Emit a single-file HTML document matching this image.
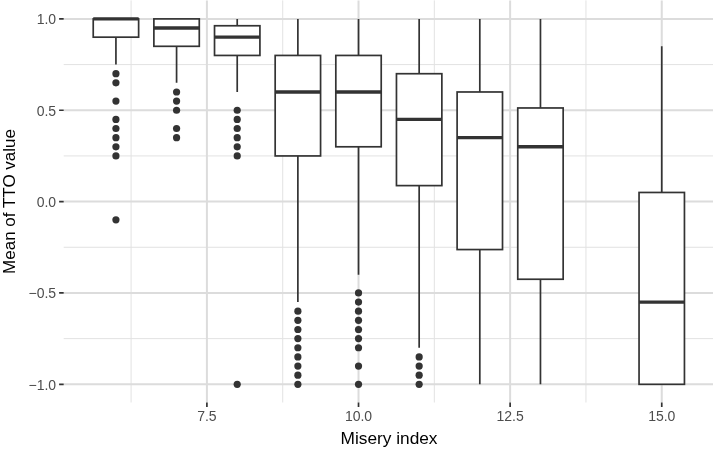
<!DOCTYPE html><html><head><meta charset="utf-8"><style>html,body{margin:0;padding:0;background:#fff;}svg{display:block;will-change:transform;}text{font-family:"Liberation Sans",sans-serif;}</style></head><body>
<svg width="713" height="449" viewBox="0 0 713 449">
<rect width="713" height="449" fill="#fff"/>
<path d="M131.09 0.4V402.5M282.71 0.4V402.5M434.33 0.4V402.5M585.94 0.4V402.5M63.7 338.62H714M63.7 247.28H714M63.7 155.93H714M63.7 64.58H714" stroke="#E2E2E2" stroke-width="1.0" fill="none"/>
<path d="M206.9 0.4V402.5M358.52 0.4V402.5M510.13 0.4V402.5M661.75 0.4V402.5M63.7 384.3H714M63.7 292.95H714M63.7 201.6H714M63.7 110.25H714M63.7 18.9H714" stroke="#DCDCDC" stroke-width="2.0" fill="none"/>
<path d="M115.93 37.17V64.58M176.58 46.31V82.84M237.22 18.9V25.75M237.22 55.44V91.98M297.87 18.9V55.44M297.87 155.93V302.09M358.52 18.9V55.44M358.52 146.79V274.68M419.16 18.9V73.71M419.16 185.61V347.76M479.81 18.9V91.98M479.81 249.56V384.3M540.46 18.9V107.97M540.46 279.25V384.3M661.75 46.31V192.47" stroke="#333333" stroke-width="1.7" fill="none"/>
<g fill="#fff" stroke="#333333" stroke-width="1.7"><rect x="93.23" y="18.9" width="45.4" height="18.27"/><rect x="153.88" y="18.9" width="45.4" height="27.41"/><rect x="214.52" y="25.75" width="45.4" height="29.69"/><rect x="275.17" y="55.44" width="45.4" height="100.49"/><rect x="335.82" y="55.44" width="45.4" height="91.35"/><rect x="396.46" y="73.71" width="45.4" height="111.9"/><rect x="457.11" y="91.98" width="45.4" height="157.58"/><rect x="517.76" y="107.97" width="45.4" height="171.28"/><rect x="639.05" y="192.47" width="45.4" height="191.84"/></g>
<path d="M93.23 18.9H138.63M153.88 28.04H199.28M214.52 37.17H259.92M275.17 91.98H320.57M335.82 91.98H381.22M396.46 119.39H441.86M457.11 137.66H502.51M517.76 146.79H563.16M639.05 302.09H684.45" stroke="#333333" stroke-width="3.4" fill="none"/>
<g fill="#333333"><circle cx="115.93" cy="73.71" r="3.6"/><circle cx="115.93" cy="82.84" r="3.6"/><circle cx="115.93" cy="101.12" r="3.6"/><circle cx="115.93" cy="119.39" r="3.6"/><circle cx="115.93" cy="128.52" r="3.6"/><circle cx="115.93" cy="137.66" r="3.6"/><circle cx="115.93" cy="146.79" r="3.6"/><circle cx="115.93" cy="155.93" r="3.6"/><circle cx="115.93" cy="219.87" r="3.6"/><circle cx="176.58" cy="91.98" r="3.6"/><circle cx="176.58" cy="101.12" r="3.6"/><circle cx="176.58" cy="110.25" r="3.6"/><circle cx="176.58" cy="128.52" r="3.6"/><circle cx="176.58" cy="137.66" r="3.6"/><circle cx="237.22" cy="110.25" r="3.6"/><circle cx="237.22" cy="119.39" r="3.6"/><circle cx="237.22" cy="128.52" r="3.6"/><circle cx="237.22" cy="137.66" r="3.6"/><circle cx="237.22" cy="146.79" r="3.6"/><circle cx="237.22" cy="155.93" r="3.6"/><circle cx="237.22" cy="384.3" r="3.6"/><circle cx="297.87" cy="311.22" r="3.6"/><circle cx="297.87" cy="320.35" r="3.6"/><circle cx="297.87" cy="329.49" r="3.6"/><circle cx="297.87" cy="338.62" r="3.6"/><circle cx="297.87" cy="347.76" r="3.6"/><circle cx="297.87" cy="356.9" r="3.6"/><circle cx="297.87" cy="366.03" r="3.6"/><circle cx="297.87" cy="375.17" r="3.6"/><circle cx="297.87" cy="384.3" r="3.6"/><circle cx="358.52" cy="292.95" r="3.6"/><circle cx="358.52" cy="302.09" r="3.6"/><circle cx="358.52" cy="311.22" r="3.6"/><circle cx="358.52" cy="320.35" r="3.6"/><circle cx="358.52" cy="329.49" r="3.6"/><circle cx="358.52" cy="338.62" r="3.6"/><circle cx="358.52" cy="347.76" r="3.6"/><circle cx="358.52" cy="366.03" r="3.6"/><circle cx="358.52" cy="384.3" r="3.6"/><circle cx="419.16" cy="356.9" r="3.6"/><circle cx="419.16" cy="366.03" r="3.6"/><circle cx="419.16" cy="375.17" r="3.6"/><circle cx="419.16" cy="384.3" r="3.6"/></g>
<path d="M59.1 384.3H63.7M59.1 292.95H63.7M59.1 201.6H63.7M59.1 110.25H63.7M59.1 18.9H63.7M206.9 402.5V407.1M358.52 402.5V407.1M510.13 402.5V407.1M661.75 402.5V407.1" stroke="#333333" stroke-width="1.7" fill="none"/>
<text x="56.1" y="24.2" font-size="14" fill="#4D4D4D" text-anchor="end">1.0</text>
<text x="56.1" y="115.55" font-size="14" fill="#4D4D4D" text-anchor="end">0.5</text>
<text x="56.1" y="206.9" font-size="14" fill="#4D4D4D" text-anchor="end">0.0</text>
<text x="56.1" y="298.25" font-size="14" fill="#4D4D4D" text-anchor="end">−0.5</text>
<text x="56.1" y="389.6" font-size="14" fill="#4D4D4D" text-anchor="end">−1.0</text>
<text x="206.9" y="421.2" font-size="14" fill="#4D4D4D" text-anchor="middle">7.5</text>
<text x="358.52" y="421.2" font-size="14" fill="#4D4D4D" text-anchor="middle">10.0</text>
<text x="510.13" y="421.2" font-size="14" fill="#4D4D4D" text-anchor="middle">12.5</text>
<text x="661.75" y="421.2" font-size="14" fill="#4D4D4D" text-anchor="middle">15.0</text>
<text x="389" y="444.4" font-size="17.3" fill="#000" text-anchor="middle">Misery index</text>
<text transform="translate(15 201.45) rotate(-90)" font-size="17" fill="#000" text-anchor="middle">Mean of TTO value</text>
</svg></body></html>
